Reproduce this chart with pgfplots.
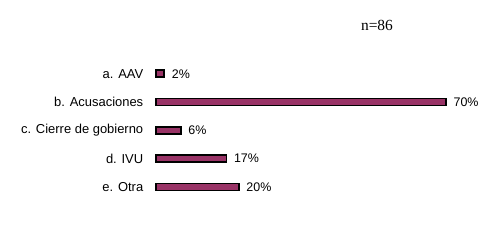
\documentclass[border=0pt]{standalone}
\usepackage{fontspec}
\setmainfont{Liberation Sans}
\newfontfamily\seriffont{Liberation Serif}
\usepackage{pgfplots}
\pgfplotsset{compat=1.18}
\definecolor{barfill}{RGB}{153,51,102}
\begin{document}
\begin{tikzpicture}
\path[use as bounding box, fill=white] (0,0) rectangle (502bp,247bp);
\begin{axis}[
  at={(156bp,45.85bp)}, anchor=south west,
  scale only axis, width=290bp, height=141.5bp,
  xmin=0, xmax=70, ymin=-0.5, ymax=4.5,
  clip=false,
  xbar, bar width=7bp,
  axis line style={draw=none},
  tick style={draw=none},
  xtick=\empty,
  ytick={0,1,2,3,4},
  yticklabels={e. Otra, d. IVU, c. Cierre de gobierno, b. Acusaciones, a. AAV},
  yticklabel style={font=\fontsize{13}{15}\selectfont, xshift=-5bp},
  /pgf/number format/assume math mode=true,
  nodes near coords={\pgfmathprintnumber[assume math mode=true]{\pgfplotspointmeta}\%},
  nodes near coords style={font=\fontsize{12.5}{15}\selectfont, anchor=west, xshift=3.4bp},
  point meta=x,
]
\addplot[fill=barfill, draw=black, line width=1.8bp] coordinates {
  (20,0) (17,1) (6,2) (70,3) (2,4)
};
\end{axis}
\node[font=\seriffont\fontsize{15.5}{18}\selectfont] at (377bp,222bp) {n=86};
\end{tikzpicture}
\end{document}
